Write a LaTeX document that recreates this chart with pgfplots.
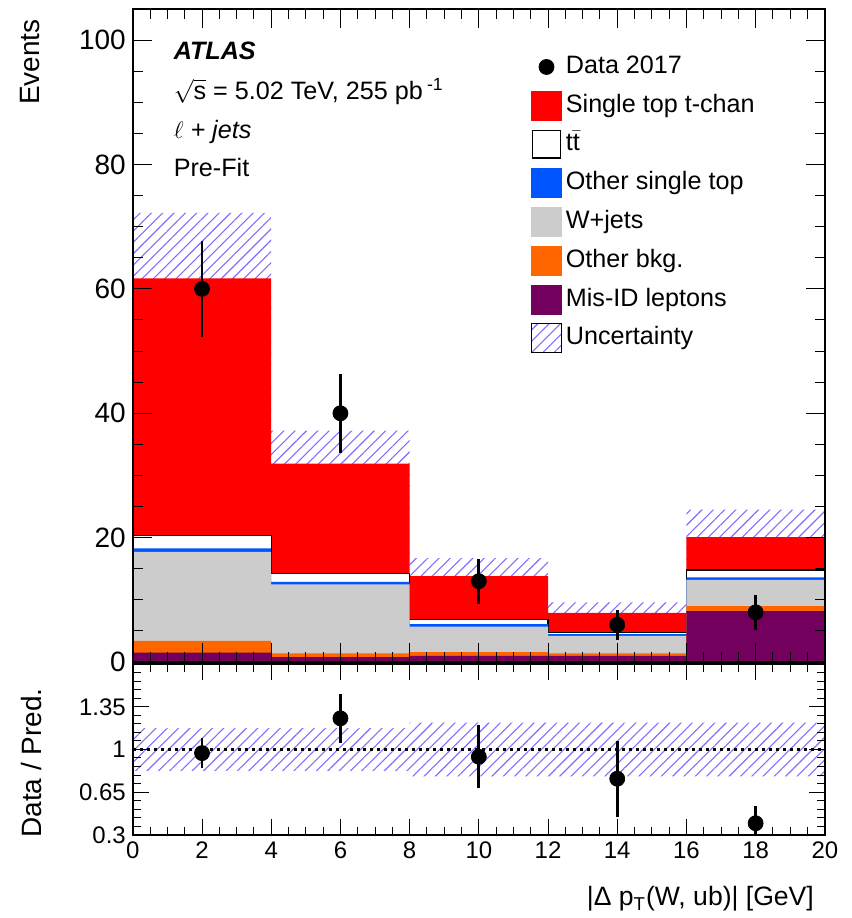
\documentclass[border=0pt]{standalone}
\usepackage{fontspec}
\setmainfont{Liberation Sans}
\usepackage{pgfplots}
\usepackage{pgfplotstable}
\pgfplotsset{compat=1.18}
\usepgfplotslibrary{fillbetween}
\usetikzlibrary{patterns.meta}

\definecolor{stred}{RGB}{255,0,0}
\definecolor{osblue}{RGB}{0,85,255}
\definecolor{wgray}{RGB}{204,204,204}
\definecolor{obor}{RGB}{255,102,0}
\definecolor{mispur}{RGB}{114,0,92}
\definecolor{unc}{RGB}{135,105,255}

% cumulative stack tops per bin (bin lower edges; last row repeats)
\pgfplotstableread{
x   red   tt    os    w     ob   mis
0   61.7  20.3  18.3  17.7  3.4  1.5
4   31.9  14.3  12.9  12.5  1.4  0.8
8   13.8  6.9   6.1   5.7   1.6  1.0
12  7.9   4.7   4.5   4.2   1.4  1.0
16  20.1  14.8  13.6  13.2  9.0  8.2
20  20.1  14.8  13.6  13.2  9.0  8.2
}\stacktab

\pgfplotstableread{
x   lo    hi
0   51.2  72.2
4   26.6  37.2
8   10.9  16.7
12  6.2   9.6
16  15.6  24.5
20  15.6  24.5
}\unctab

\pgfplotstableread{
x   y    e
2   60   7.75
6   40   6.32
10  13   3.61
14  6    2.45
18  8    2.83
}\datatab

\pgfplotstableread{
x   lo     hi
0   0.825  1.175
4   0.825  1.175
8   0.78   1.22
12  0.78   1.22
16  0.78   1.22
20  0.78   1.22
}\ratiounc

\pgfplotstableread{
x   y      e
2   0.97   0.126
6   1.255  0.20
10  0.94   0.26
14  0.76   0.31
18  0.395  0.14
}\ratiotab

\tikzset{hatch/.style={pattern={Lines[angle=45,distance=4bp,line width=0.55bp]},pattern color=unc}}

\begin{document}
\begin{tikzpicture}
\begin{axis}[
  name=main, at={(0,86.5bp)}, anchor=south west,
  scale only axis, width=346.5bp, height=327bp,
  xmin=0, xmax=20, ymin=0, ymax=105,
  xtick={0,2,...,20}, xticklabels={}, minor x tick num=3,
  ytick={0,20,...,100}, minor y tick num=3,
  major tick length=9.5bp, minor tick length=5bp,
  tick style={line width=0.5bp, black},
  axis line style={line width=0.75bp},
  axis on top,
  /pgf/number format/assume math mode=true,
  tick label style={font=\fontsize{14bp}{16bp}\selectfont},
  ylabel={Events},
  ylabel style={at={(rel axis cs:-0.148,0.995)}, anchor=east, font=\fontsize{14bp}{16bp}\selectfont},
  legend style={at={(rel axis cs:0.575,0.934)}, anchor=north west, draw=none, fill=none,
    inner sep=0pt, row sep=4.6bp,
    font=\fontsize{12.6bp}{15bp}\selectfont,
    nodes={inner xsep=2bp, inner ysep=0pt, text height=9.2bp, text depth=2.6bp}},
  legend cell align=left,
]
\addlegendimage{legend image code/.code={\path[draw=none,fill=none] (0bp,-7.25bp) rectangle (15bp,7.25bp); \fill[black] (7.5bp,0bp) circle (3.75bp);}}
\addlegendimage{legend image code/.code={\fill[stred] (0bp,-7.25bp) rectangle (15bp,7.25bp);}}
\addlegendimage{legend image code/.code={\filldraw[fill=white,draw=black,line width=0.6bp] (0.3bp,-6.95bp) rectangle (14.7bp,6.95bp);}}
\addlegendimage{legend image code/.code={\fill[osblue] (0bp,-7.25bp) rectangle (15bp,7.25bp);}}
\addlegendimage{legend image code/.code={\fill[wgray] (0bp,-7.25bp) rectangle (15bp,7.25bp);}}
\addlegendimage{legend image code/.code={\fill[obor] (0bp,-7.25bp) rectangle (15bp,7.25bp);}}
\addlegendimage{legend image code/.code={\fill[mispur] (0bp,-7.25bp) rectangle (15bp,7.25bp);}}
\addlegendimage{legend image code/.code={\fill[hatch] (0bp,-7.25bp) rectangle (15bp,7.25bp);}}
\legend{Data 2017, Single top t-chan, t$\bar{\mbox{t}}$, Other single top, W+jets, Other bkg., Mis-ID leptons, Uncertainty}

\addplot[const plot, fill=stred, draw=none, forget plot] table[x=x,y=red] {\stacktab} \closedcycle;
\addplot[const plot, fill=white, draw=black, line width=0.6bp, forget plot] table[x=x,y=tt] {\stacktab} \closedcycle;
\addplot[const plot, fill=osblue, draw=none, forget plot] table[x=x,y=os] {\stacktab} \closedcycle;
\addplot[const plot, fill=wgray, draw=none, forget plot] table[x=x,y=w] {\stacktab} \closedcycle;
\addplot[const plot, fill=obor, draw=none, forget plot] table[x=x,y=ob] {\stacktab} \closedcycle;
\addplot[const plot, fill=mispur, draw=none, forget plot] table[x=x,y=mis] {\stacktab} \closedcycle;

\addplot[const plot, draw=none, name path=uhi, forget plot] table[x=x,y=hi] {\unctab};
\addplot[const plot, draw=none, name path=ulo, forget plot] table[x=x,y=lo] {\unctab};
\addplot[hatch, draw=none, forget plot] fill between[of=uhi and ulo];

\addplot[only marks, mark=*, mark size=3.75bp, black, forget plot,
  error bars/.cd, y dir=both, y explicit, error mark=none,
  error bar style={line width=1.4bp}]
  table[x=x, y=y, y error=e] {\datatab};

\node[anchor=base west, font=\fontsize{12.6bp}{15bp}\selectfont] at (rel axis cs:0.049,0.922) {\bfseries\itshape ATLAS};
\node[anchor=base west, font=\fontsize{12.6bp}{15bp}\selectfont] at (rel axis cs:0.049,0.862) {$\sqrt{\mbox{s}}$ = 5.02 TeV, 255 pb\,\textsuperscript{-1}};
\node[anchor=base west, font=\fontsize{12.6bp}{15bp}\selectfont] at (rel axis cs:0.049,0.802) {\itshape $\ell$ + jets};
\node[anchor=base west, font=\fontsize{12.6bp}{15bp}\selectfont] at (rel axis cs:0.049,0.743) {Pre-Fit};
\end{axis}

\begin{axis}[
  name=ratio, at={(0,0)}, anchor=south west,
  scale only axis, width=346.5bp, height=85.5bp,
  xmin=0, xmax=20, ymin=0.3, ymax=1.7,
  xtick={0,2,...,20}, minor x tick num=3,
  ytick={0.3,0.65,1,1.35,1.7}, yticklabels={0.3,0.65,1,1.35,},
  minor y tick num=4,
  major tick length=8bp, minor tick length=4bp,
  tick style={line width=0.5bp, black},
  axis line style={line width=0.75bp},
  axis on top,
  /pgf/number format/assume math mode=true,
  tick label style={font=\fontsize{12bp}{14bp}\selectfont},
  ylabel={Data / Pred.},
  ylabel style={at={(rel axis cs:-0.147,0.42)}, anchor=center, font=\fontsize{14bp}{16bp}\selectfont},
  xlabel={|Δ p\textsubscript{T}(W, ub)| [GeV]},
  xlabel style={at={(rel axis cs:1,0)}, anchor=base east, xshift=-2bp, yshift=-35.5bp, font=\fontsize{13.3bp}{16bp}\selectfont},
]
\addplot[const plot, draw=none, name path=rhi, forget plot] table[x=x,y=hi] {\ratiounc};
\addplot[const plot, draw=none, name path=rlo, forget plot] table[x=x,y=lo] {\ratiounc};
\addplot[hatch, draw=none, forget plot] fill between[of=rhi and rlo];
\addplot[black, line width=1.1bp, dash pattern=on 1.5bp off 2bp, forget plot] coordinates {(0,1) (20,1)};
\addplot[only marks, mark=*, mark size=3.75bp, black, forget plot,
  error bars/.cd, y dir=both, y explicit, error mark=none,
  error bar style={line width=1.4bp}]
  table[x=x, y=y, y error=e] {\ratiotab};
\end{axis}
\path (-66.5bp,-41bp) rectangle (360bp,418bp);
\end{tikzpicture}
\end{document}
